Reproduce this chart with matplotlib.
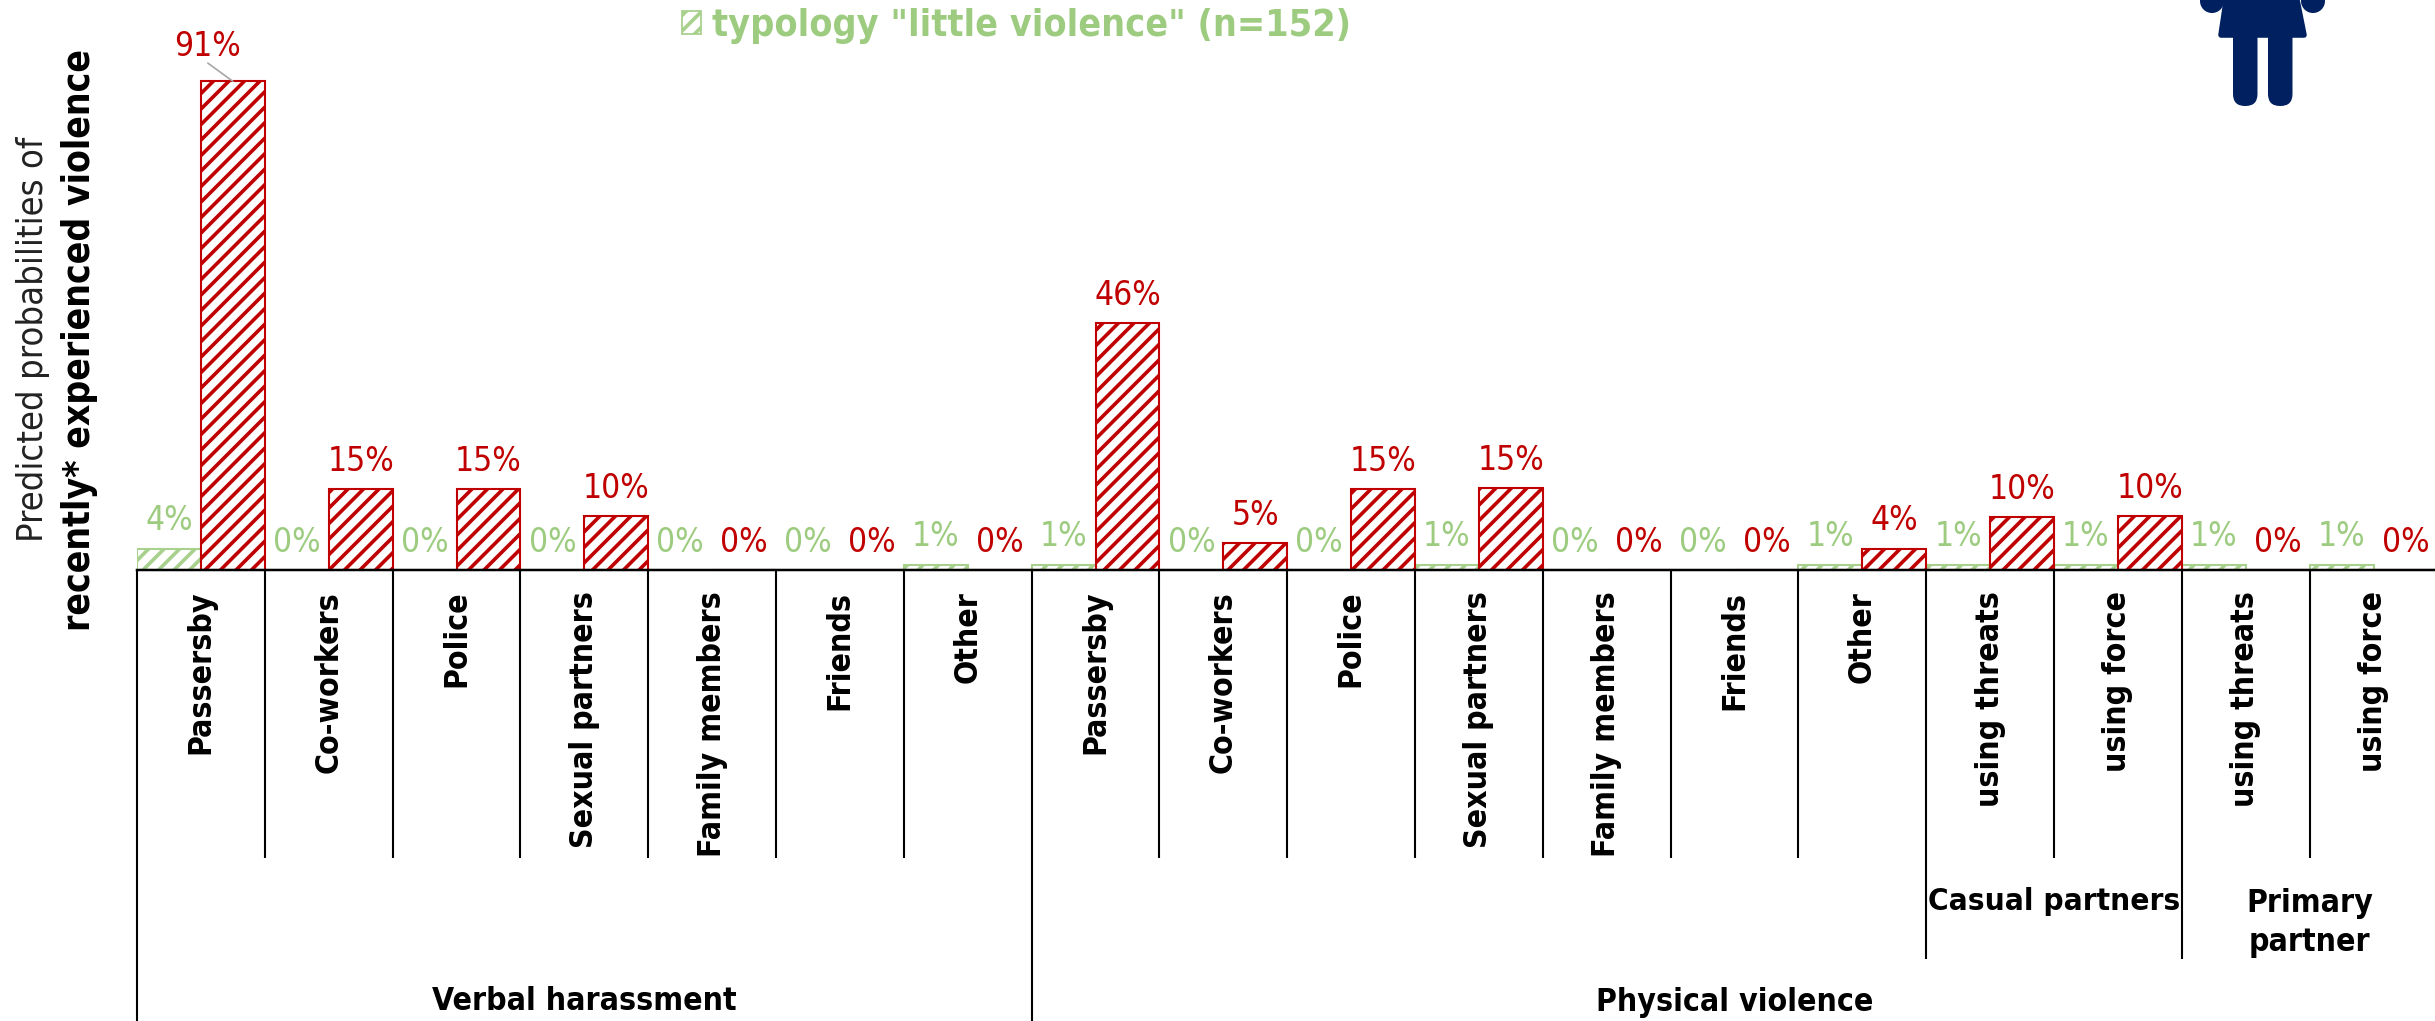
import matplotlib
matplotlib.use('Agg')
import matplotlib.pyplot as plt
import numpy as np
from matplotlib.patches import Patch, Polygon, FancyBboxPatch, Circle

# perpetrators, one per x position
categories = ['Passersby', 'Co-workers', 'Police', 'Sexual partners', 'Family members', 'Friends', 'Other',
              'Passersby', 'Co-workers', 'Police', 'Sexual partners', 'Family members', 'Friends', 'Other',
              'using threats', 'using force', 'using threats', 'using force']
little_violence = [4, 0, 0, 0, 0, 0, 1, 1, 0, 0, 1, 0, 0, 1, 1, 1, 1, 1]
much_violence = [91, 15, 15, 10, 0, 0, 0, 46, 5, 15, 15.3, 0, 0, 4, 9.8, 10, 0, 0]
legend_label = 'typology "little violence" (n=152)'

GREEN = '#A9D18E'
GREEN_TEXT = '#9DCC80'
RED = '#C00000'
NAVY = '#002060'
W, H = 2435, 1021
BASE = 570   # baseline, pixels from the top
LEFT = 137
CAT_W = 127.8
DPI = 93     # hatch spacing follows the dpi, so this sets the stripe distance
K = 100 / DPI  # sizes below were tuned at dpi 100

plt.rcParams['font.family'] = ['DejaVu Sans']
plt.rcParams['font.stretch'] = 'condensed'
plt.rcParams['hatch.linewidth'] = 2.6 * K

fig = plt.figure(figsize=(W / DPI, H / DPI), dpi=DPI)
ax = fig.add_axes([LEFT / W, 1 - BASE / H, 18 * CAT_W / W, BASE / H])
ax.set_xlim(0, 18)
ax.set_ylim(0, BASE / 5.37)
for s in ['top', 'left', 'right']:
    ax.spines[s].set_visible(False)
ax.spines['bottom'].set_linewidth(1.8 * K)
ax.set_yticks([])

x = np.arange(len(categories))
ax.bar(x + 0.25, little_violence, 0.5, facecolor='white', edgecolor=GREEN, hatch='//', linewidth=1.5 * K)
ax.bar(x + 0.75, much_violence, 0.5, facecolor='white', edgecolor=RED, hatch='//', linewidth=1.5 * K)

for i in x:
    ax.annotate(f'{little_violence[i]:.0f}%', (i + 0.25, little_violence[i]), xytext=(0, 20 * K),
                textcoords='offset points', ha='center', va='center', fontsize=24 * K, color=GREEN_TEXT)
    if much_violence[i] > 90:
        # the tall bar has its label pulled aside with a leader
        ax.annotate(f'{much_violence[i]:.0f}%', (i + 0.75, much_violence[i]), xytext=(-18 * K, 25 * K),
                    textcoords='offset points', ha='center', va='center', fontsize=24 * K, color=RED,
                    arrowprops=dict(arrowstyle='-', color='#A6A6A6', lw=1.2 * K, shrinkA=0, shrinkB=0,
                                    relpos=(0.5, 0), patchA=None), annotation_clip=False)
    else:
        ax.annotate(f'{much_violence[i]:.0f}%', (i + 0.75, much_violence[i]), xytext=(0, 20 * K),
                    textcoords='offset points', ha='center', va='center', fontsize=24 * K, color=RED)

ax.set_xticks(x + 0.5)
ax.set_xticklabels(categories, rotation=90, fontsize=23 * K, fontweight='bold', ha='center', va='top')
ax.tick_params(axis='x', length=0, pad=15 * K)


def frac(py):
    return (BASE - py) / BASE


trans = ax.get_xaxis_transform()
inner = [1, 2, 3, 4, 5, 6, 8, 9, 10, 11, 12, 13, 15, 17]
ax.vlines(inner, frac(858), 0, transform=trans, clip_on=False, color='black', lw=1.5 * K)
ax.vlines([14, 16], frac(959), 0, transform=trans, clip_on=False, color='black', lw=1.5 * K)
ax.vlines([0, 7], frac(1021), 0, transform=trans, clip_on=False, color='black', lw=1.5 * K)

ax.text(3.5, frac(1002), 'Verbal harassment', transform=trans, ha='center', va='center', fontsize=23 * K, fontweight='bold')
ax.text(12.5, frac(1002), 'Physical violence', transform=trans, ha='center', va='center', fontsize=23 * K, fontweight='bold')
ax.text(15, frac(902), 'Casual partners', transform=trans, ha='center', va='center', fontsize=22.6 * K, fontweight='bold')
ax.text(17, frac(923), 'Primary\npartner', transform=trans, ha='center', va='center', fontsize=23 * K, fontweight='bold', linespacing=1.3)

fig.text(33 / W, 1 - 339 / H, 'Predicted probabilities of', rotation=90, ha='center', va='center',
         fontsize=26 * K, color='#222222')
fig.text(80 / W, 1 - 340 / H, 'recently* experienced violence', rotation=90, ha='center', va='center',
         fontsize=26.7 * K, fontweight='bold')

handle = Patch(facecolor='white', edgecolor=GREEN, hatch='//', linewidth=1.3 * K)
leg = fig.legend([handle], [legend_label], loc='upper left', bbox_to_anchor=(674.5 / W, 1 - 0 / H), frameon=False,
                 fontsize=27 * K, handlelength=0.5, handleheight=0.58, handletextpad=0.3, borderpad=0.2,
                 borderaxespad=0, labelcolor=GREEN_TEXT)
for t in leg.get_texts():
    t.set_fontweight('bold')

# woman pictogram, cut by the top edge
ov = fig.add_axes([0, 0, 1, 1], facecolor='none')
ov.set_xlim(0, W)
ov.set_ylim(H, 0)
ov.axis('off')
ov.add_patch(Polygon([[2227, -5], [2296, -5], [2304, 35], [2221, 35]], closed=True, facecolor=NAVY, edgecolor=NAVY,
                     lw=4 * K, joinstyle='round'))
for lx in (2245, 2280):
    ov.add_patch(FancyBboxPatch((lx, 30), 0.5, 64, boxstyle='round,pad=12', facecolor=NAVY, edgecolor=NAVY, lw=0))
ov.add_patch(Circle((2212, 1), 12, facecolor=NAVY, edgecolor=NAVY, lw=0))
ov.add_patch(Circle((2313, 1), 12, facecolor=NAVY, edgecolor=NAVY, lw=0))

fig.savefig('out.png', dpi=DPI)
